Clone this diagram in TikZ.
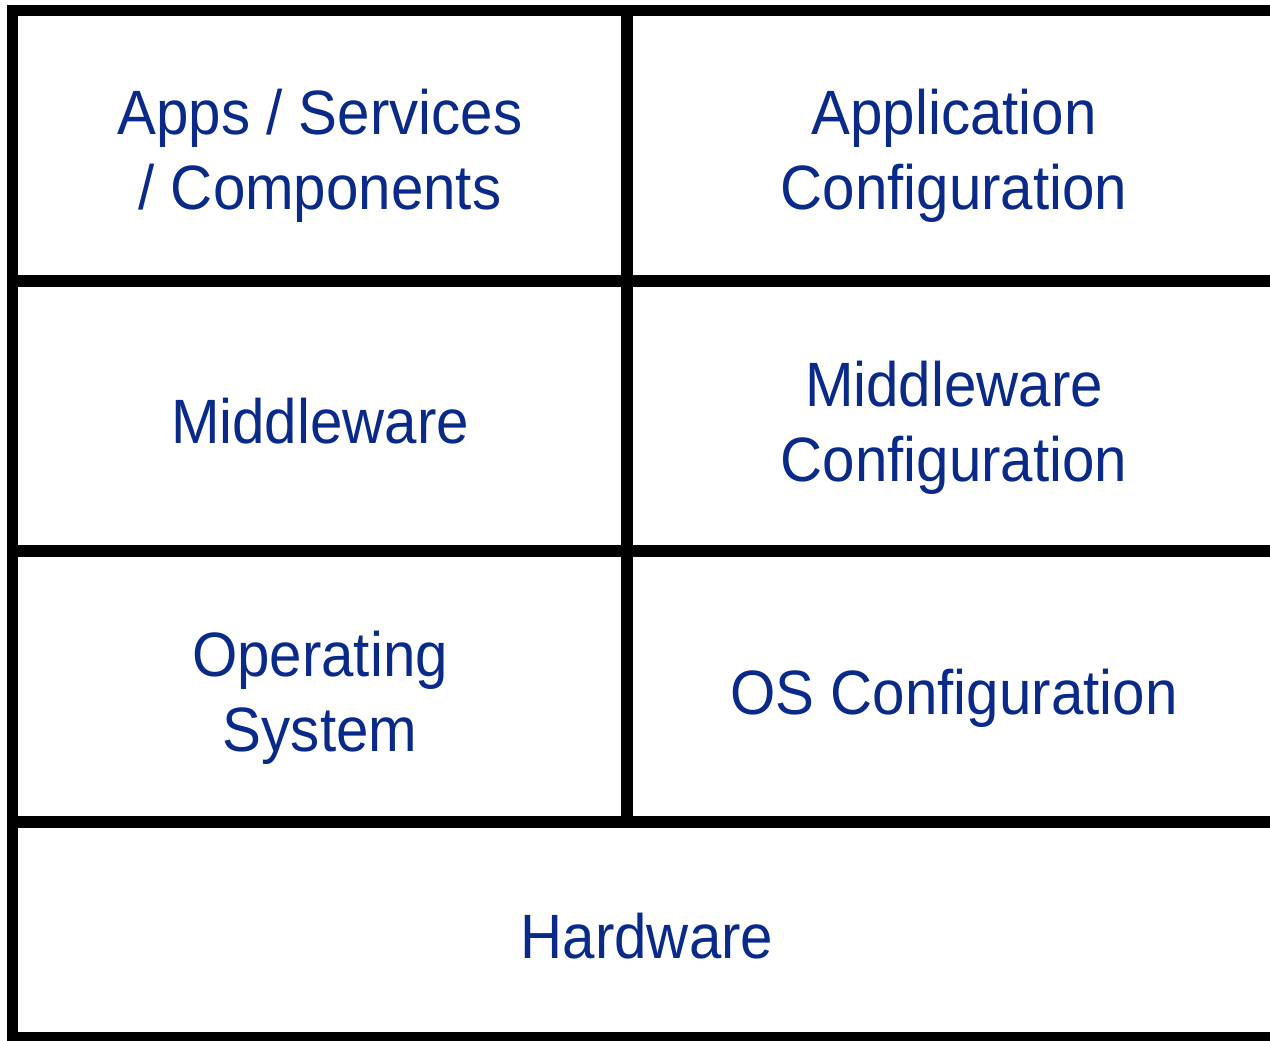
\documentclass[tikz,border=0pt]{standalone}
\usepackage{fontspec}
\setmainfont[FakeStretch=0.93]{Liberation Sans}
\definecolor{labelblue}{HTML}{0A2A8A}
\begin{document}
\begin{tikzpicture}[x=0.75pt,y=-0.75pt,
  gridline/.style={line width=8.5pt,draw=black},
  cell/.style={text=labelblue,align=center,inner sep=0pt,
    font=\fontsize{47}{56.25}\selectfont,text depth=0pt},
  oneline/.style={cell,text height=33.75pt},
  twoline/.style={cell,text height=90pt}]
\useasboundingbox (0,0) rectangle (1270,1041);
\clip (0,0) rectangle (1270,1041);
\fill[white] (0,0) rectangle (1270,1041);
% layer grid
\coordinate (tl) at (12.5,10.5);
\coordinate (bl) at (12.5,1038);
\draw[gridline] (1300,10.5) -- (tl) -- (bl) -- (1300,1038);
\draw[gridline] (12.5,281) -- (1300,281);
\draw[gridline] (12.5,551) -- (1300,551);
\draw[gridline] (12.5,822) -- (1300,822);
\draw[gridline] (627,10.5) -- (627,822);
% cell labels
\node[twoline] (apps) at (320,150) {Apps / Services\\/ Components};
\node[twoline] (appcfg) at (954,150) {Application\\Configuration};
\node[oneline] (mw) at (320,421) {Middleware};
\node[twoline] (mwcfg) at (954,421) {Middleware\\Configuration};
\node[twoline] (os) at (320,691) {Operating\\System};
\node[oneline] (oscfg) at (954,692) {OS Configuration};
\node[oneline] (hw) at (647,935.5) {Hardware};
\end{tikzpicture}
\end{document}
